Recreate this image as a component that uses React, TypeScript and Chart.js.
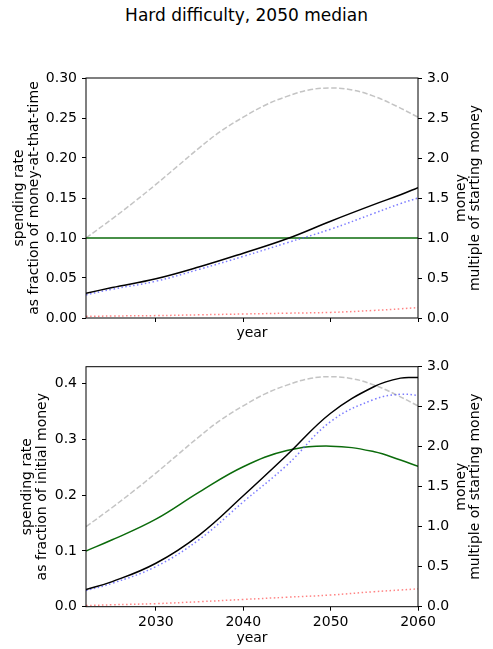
import { useEffect, useRef } from 'react';
import { Chart, registerables } from 'chart.js';
import type { ChartConfiguration, Plugin } from 'chart.js';

Chart.register(...registerables);

const years = [2022, 2025, 2030, 2035, 2040, 2045, 2050, 2055, 2058, 2060];
const moneyYears = [
  2022, 2025, 2027.5, 2030, 2032.5, 2035, 2037.5, 2040, 2042.5, 2045, 2047.5, 2050, 2052.5, 2055,
  2057.5, 2060,
];
const yearTicks = [2030, 2040, 2050, 2060];
const moneyTicks = [0, 0.5, 1, 1.5, 2, 2.5, 3];
const rateTicksTop = [0, 0.05, 0.1, 0.15, 0.2, 0.25, 0.3];
const rateTicksBottom = [0, 0.1, 0.2, 0.3, 0.4];

// money, multiple of starting money (right axis), same in both panels
const money = [
  1.0, 1.24, 1.45, 1.67, 1.9, 2.13, 2.34, 2.51, 2.66, 2.77, 2.85, 2.875, 2.85, 2.77, 2.65, 2.51,
];

// top panel: rate as fraction of money-at-that-time
const topSpend = [0.1, 0.1, 0.1, 0.1, 0.1, 0.1, 0.1, 0.1, 0.1, 0.1];
const topBlack = [0.031, 0.038, 0.049, 0.064, 0.081, 0.099, 0.121, 0.142, 0.154, 0.163];
const topBlue = [0.029, 0.036, 0.046, 0.061, 0.077, 0.094, 0.111, 0.131, 0.143, 0.15];
const topRed = [0.002, 0.0025, 0.003, 0.004, 0.005, 0.006, 0.007, 0.0095, 0.0115, 0.013];

// bottom panel: rate as fraction of initial money
const bottomSpend = [0.1, 0.12, 0.157, 0.206, 0.251, 0.28, 0.288, 0.278, 0.263, 0.252];
const bottomBlack = [0.031, 0.045, 0.078, 0.129, 0.199, 0.272, 0.347, 0.395, 0.41, 0.411];
const bottomBlue = [0.029, 0.042, 0.072, 0.121, 0.188, 0.254, 0.332, 0.372, 0.381, 0.379];
const bottomRed = [0.002, 0.0035, 0.0055, 0.009, 0.013, 0.017, 0.021, 0.027, 0.03, 0.032];

const FONT = 'DejaVu Sans';
Chart.defaults.font.family = FONT;
Chart.defaults.font.size = 14;
Chart.defaults.color = '#000';

const pts = (xs: number[], vals: number[]) => vals.map((v, i) => ({ x: xs[i], y: v }));

const line = (
  xs: number[],
  vals: number[],
  color: string,
  axis: string,
  dash: number[] = [],
) => ({
  data: pts(xs, vals),
  borderColor: color,
  borderWidth: 1.5,
  borderDash: dash,
  pointRadius: 0,
  tension: 0.4,
  yAxisID: axis,
  fill: false,
});

interface PanelProps {
  spend: number[];
  black: number[];
  blue: number[];
  red: number[];
  leftMax: number;
  leftTicks: number[];
  leftDigits: number;
  leftTitle: string[];
  leftTitlePad: number;
  showYearLabels: boolean;
  padTop: number;
  xHeight: number;
  xTitlePad: number;
}

function Panel(p: PanelProps) {
  const canvasRef = useRef<HTMLCanvasElement>(null);

  useEffect(() => {
    const canvas = canvasRef.current;
    if (!canvas) return undefined;

    const frame: Plugin<'line'> = {
      id: 'frame',
      afterDraw(chart) {
        const { ctx, chartArea: a } = chart;
        ctx.save();
        ctx.strokeStyle = '#000';
        ctx.lineWidth = 1;
        ctx.strokeRect(a.left, a.top, a.right - a.left, a.bottom - a.top);
        // right axis title, reading upwards like the left one
        ctx.translate(461, (a.top + a.bottom) / 2);
        ctx.rotate(-Math.PI / 2);
        ctx.fillStyle = '#000';
        ctx.font = `14px "${FONT}"`;
        ctx.textAlign = 'center';
        ctx.textBaseline = 'middle';
        ctx.fillText('money', 0, 0);
        ctx.fillText('multiple of starting money', 0, 14.5);
        ctx.restore();
      },
    };

    const config: ChartConfiguration<'line'> = {
      type: 'line',
      data: {
        datasets: [
          line(years, p.black, '#000000', 'y'),
          line(years, p.blue, 'rgba(80,80,255,0.75)', 'y', [1.5, 2.5]),
          line(years, p.red, 'rgba(255,90,90,0.75)', 'y', [1.5, 2.5]),
          line(years, p.spend, '#0b6b0b', 'y'),
          line(moneyYears, money, '#c4c4c4', 'y2', [5.5, 2.4]),
        ],
      },
      options: {
        animation: false,
        responsive: true,
        maintainAspectRatio: false,
        layout: { padding: { top: p.padTop, left: 0, right: 0, bottom: 0 } },
        plugins: { legend: { display: false }, tooltip: { enabled: false } },
        scales: {
          x: {
            type: 'linear',
            min: years[0],
            max: years[years.length - 1],
            afterBuildTicks: (s) => {
              s.ticks = yearTicks.map((v) => ({ value: v }));
            },
            afterFit: (s) => {
              s.height = p.xHeight;
            },
            ticks: {
              display: p.showYearLabels,
              padding: 3,
              callback: (v) => String(v),
            },
            grid: { drawOnChartArea: false, tickLength: 4, color: '#000' },
            border: { display: false },
            title: {
              display: true,
              text: 'year',
              padding: { top: 0, bottom: p.xTitlePad },
              font: { lineHeight: 1 },
            },
          },
          y: {
            position: 'left',
            min: 0,
            max: p.leftMax,
            afterBuildTicks: (s) => {
              s.ticks = p.leftTicks.map((v) => ({ value: v }));
            },
            afterFit: (s) => {
              s.width = 86;
            },
            ticks: { padding: 5, callback: (v) => Number(v).toFixed(p.leftDigits) },
            grid: { drawOnChartArea: false, tickLength: 4, color: '#000' },
            border: { display: false },
            title: {
              display: true,
              text: p.leftTitle,
              padding: { top: p.leftTitlePad, bottom: 0 },
              font: { lineHeight: 1.05 },
            },
          },
          y2: {
            position: 'right',
            min: 0,
            max: 3,
            afterBuildTicks: (s) => {
              s.ticks = moneyTicks.map((v) => ({ value: v }));
            },
            afterFit: (s) => {
              s.width = 75;
            },
            ticks: { padding: 5, callback: (v) => Number(v).toFixed(1) },
            grid: { drawOnChartArea: false, tickLength: 4, color: '#000' },
            border: { display: false },
          },
        },
      },
      plugins: [frame],
    };

    const chart = new Chart(canvas, config);
    return () => chart.destroy();
  }, [p]);

  return <canvas ref={canvasRef} />;
}

const topPanel: PanelProps = {
  spend: topSpend,
  black: topBlack,
  blue: topBlue,
  red: topRed,
  leftMax: 0.3,
  leftTicks: rateTicksTop,
  leftDigits: 2,
  leftTitle: ['spending rate', 'as fraction of money-at-that-time'],
  leftTitlePad: 12,
  showYearLabels: false,
  padTop: 38,
  xHeight: 22,
  xTitlePad: 0,
};

const bottomPanel: PanelProps = {
  spend: bottomSpend,
  black: bottomBlack,
  blue: bottomBlue,
  red: bottomRed,
  leftMax: 0.4305,
  leftTicks: rateTicksBottom,
  leftDigits: 1,
  leftTitle: ['spending rate', 'as fraction of initial money'],
  leftTitlePad: 20.5,
  showYearLabels: true,
  padTop: 26.7,
  xHeight: 42.3,
  xTitlePad: 4,
};

export default function App() {
  return (
    <div style={{ position: 'absolute', left: 0, top: 0, width: 493, height: 649, background: '#fff' }}>
      <div
        style={{
          position: 'absolute',
          top: 5,
          left: 0,
          width: 493,
          textAlign: 'center',
          fontFamily: FONT,
          fontSize: 17,
          lineHeight: '20px',
          color: '#000',
        }}
      >
        Hard difficulty, 2050 median
      </div>
      <div style={{ position: 'absolute', top: 40, left: 0, width: 493, height: 300 }}>
        <Panel {...topPanel} />
      </div>
      <div style={{ position: 'absolute', top: 340, left: 0, width: 493, height: 309 }}>
        <Panel {...bottomPanel} />
      </div>
    </div>
  );
}
